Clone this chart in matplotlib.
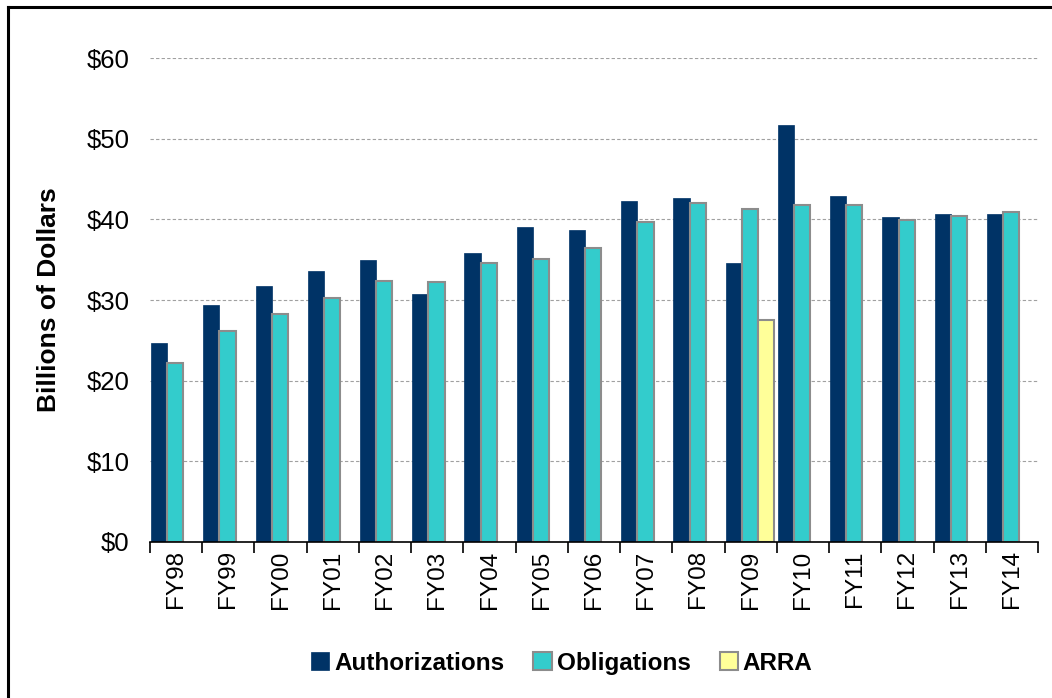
import numpy as np
import matplotlib
matplotlib.use("Agg")
import matplotlib.pyplot as plt
from matplotlib.lines import Line2D

plt.rcParams['font.family'] = ['Liberation Sans', 'DejaVu Sans']

# fiscal years and values (billions of dollars)
years = ["FY98", "FY99", "FY00", "FY01", "FY02", "FY03", "FY04", "FY05", "FY06",
         "FY07", "FY08", "FY09", "FY10", "FY11", "FY12", "FY13", "FY14"]
authorizations = [24.7, 29.4, 31.7, 33.6, 35.0, 30.8, 35.8, 39.0, 38.7,
                  42.3, 42.6, 34.6, 51.7, 42.9, 40.3, 40.6, 40.6]
obligations = [22.2, 26.1, 28.3, 30.2, 32.4, 32.2, 34.6, 35.1, 36.4,
               39.7, 42.0, 41.3, 41.8, 41.8, 39.9, 40.4, 40.9]
arra = [np.nan] * 11 + [27.5] + [np.nan] * 5

navy = "#003366"
teal = "#33CCCC"
yellow = "#FFFF99"
edge = "#8C8C8C"

fig = plt.figure(figsize=(10.52, 6.98), dpi=100)
ax = fig.add_axes([0.1426, 0.2235, 0.8441, 0.6934])

x = np.arange(len(years))
w = 0.31
ax.bar(x - w - 0.015, authorizations, w, color=navy, edgecolor=navy, linewidth=0.5,
       label="Authorizations", zorder=3)
ax.bar(x - 0.015, obligations, w, color=teal, edgecolor=edge, linewidth=1.5,
       label="Obligations", zorder=3)
ax.bar(x + w - 0.015, arra, w, color=yellow, edgecolor=edge, linewidth=1.5,
       label="ARRA", zorder=3)

ax.set_xlim(-0.5, len(years) - 0.5)
ax.set_ylim(0, 60)
ax.set_yticks(range(0, 61, 10))
ax.set_yticklabels(["${}".format(v) for v in range(0, 61, 10)], fontsize=18.5)

# tick marks between categories, labels at the centres
ax.set_xticks(np.arange(len(years) + 1) - 0.5)
ax.set_xticklabels([])
ax.set_xticks(x, minor=True)
ax.set_xticklabels(years, minor=True, rotation=90, fontsize=17.5)
ax.tick_params(axis="x", which="major", direction="out", length=8, width=1.2, color="black")
ax.tick_params(axis="x", which="minor", length=0, pad=6)
ax.tick_params(axis="y", length=0, pad=15)

ax.yaxis.grid(True, linestyle=(0, (3, 2)), color="#A0A0A0", linewidth=0.8, zorder=0)
for s in ["top", "right", "left"]:
    ax.spines[s].set_visible(False)
ax.spines["bottom"].set_linewidth(1.2)
ax.spines["bottom"].set_zorder(4)

ax.set_ylabel("Billions of Dollars", fontsize=19, fontweight="bold", labelpad=18)

leg = fig.legend(loc="center", bbox_to_anchor=(0.534, 0.05), ncol=3, frameon=False,
                 prop={"size": 17.5, "weight": "bold"}, handlelength=0.75, handleheight=0.75,
                 handletextpad=0.2, columnspacing=1.2)

# outer frame (top and left edges)
fig.add_artist(Line2D([8 / 1052, 1.0], [1 - 7 / 698, 1 - 7 / 698], color="black", lw=2.2,
                      transform=fig.transFigure))
fig.add_artist(Line2D([8 / 1052, 8 / 1052], [0.0, 1 - 7 / 698], color="black", lw=2.2,
                      transform=fig.transFigure))

fig.savefig("out.png", dpi=100)
